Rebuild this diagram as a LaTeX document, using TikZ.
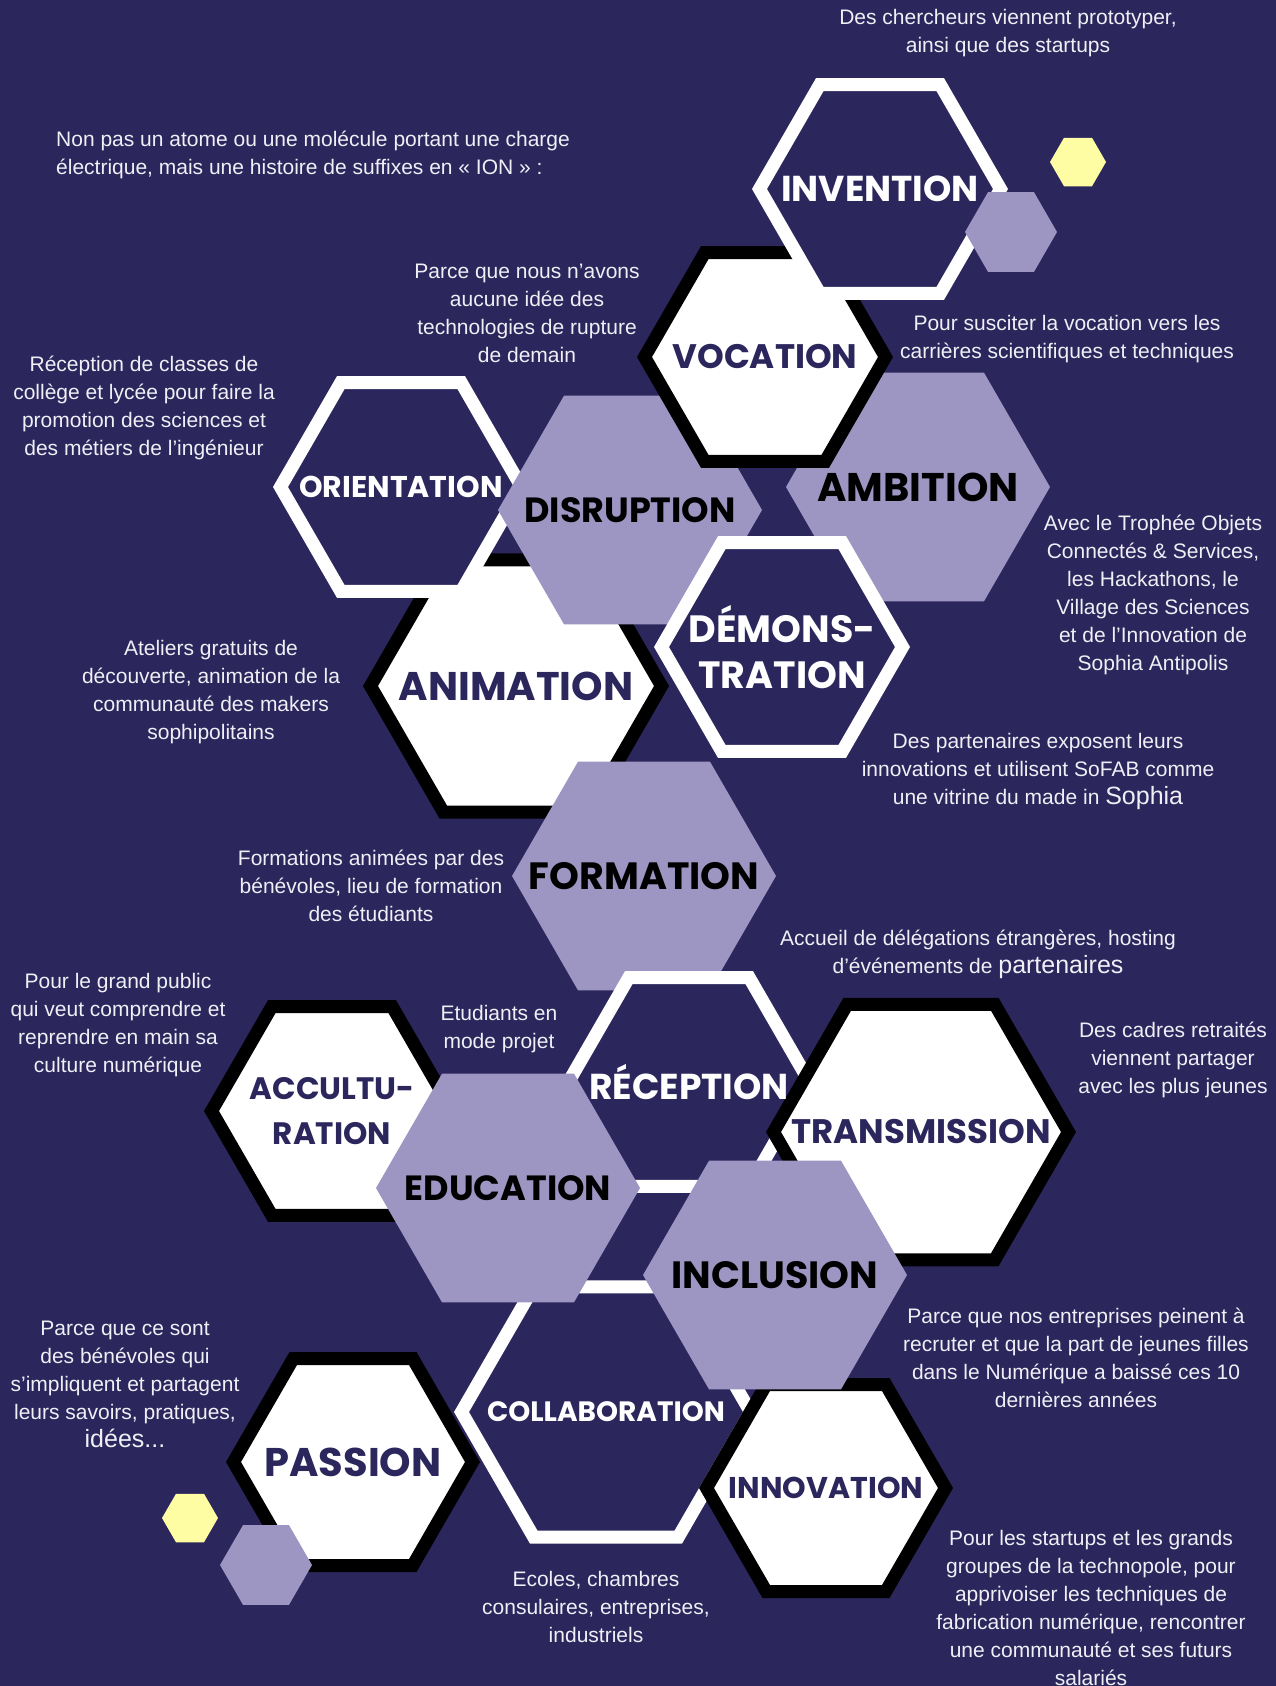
\documentclass[tikz,border=0pt]{standalone}
\usepackage{fontspec}
\setmainfont{Liberation Sans}
\newfontfamily\headfont{Poppins}
\usetikzlibrary{shapes.geometric}
\definecolor{navybg}{RGB}{43,38,92}
\definecolor{lilac}{RGB}{157,149,194}
\definecolor{pale}{RGB}{255,253,164}
\definecolor{txtw}{RGB}{240,239,246}
\newcommand{\hf}[2]{\headfont\bfseries\fontsize{#1}{#2}\selectfont}
\newcommand{\bodyf}{\fontsize{21}{28}\selectfont}
\newcommand{\bigw}{\fontsize{25}{28}\selectfont}

\begin{document}
\begin{tikzpicture}[x=1pt,y=-1pt,
  hex/.style={regular polygon,regular polygon sides=6,inner sep=0pt,outer sep=0pt},
  hexdark/.style={hex,fill=navybg,draw=white,line width=13pt},
  hexlight/.style={hex,fill=white,draw=black,line width=13pt},
  hexlilac/.style={hex,fill=lilac},
  hexpale/.style={hex,fill=pale},
  word/.style={inner sep=0pt,align=center},
  note/.style={text=txtw,align=center,font=\bodyf,inner sep=0pt}]
\fill[navybg] (0,0) rectangle (1276,1686);
\useasboundingbox (0,0) rectangle (1276,1686);

% upper group of cells, back to front
\node[hexlight,minimum size=291] (hAnimation) at (516,686) {};
\node[hexdark,minimum size=241] (hOrientation) at (401,487) {};
\node[hexlilac,minimum size=264] (hDisruption) at (630,510) {};
\node[hexlilac,minimum size=264] (hAmbition) at (918,487) {};
\node[hexlight,minimum size=241] (hVocation) at (765,357) {};
\node[hexdark,minimum size=241] (hInvention) at (880,189) {};
\node[hexlilac,minimum size=92] (hDotA) at (1011,232) {};
\node[hexpale,minimum size=56] (hDotB) at (1078,162) {};
\node[hexdark,minimum size=241] (hDemonstration) at (782,647) {};
\node[hexlilac,minimum size=264] (hFormation) at (644,876) {};

% lower group
\node[hexlight,minimum size=241] (hAcculturation) at (332,1111) {};
\node[hexdark,minimum size=241] (hReception) at (689,1082) {};
\node[hexlight,minimum size=295] (hTransmission) at (921,1132) {};
\node[hexdark,minimum size=289] (hCollaboration) at (606,1412) {};
\node[hexlilac,minimum size=264] (hEducation) at (508,1188) {};
\node[hexlight,minimum size=239] (hPassion) at (353,1462) {};
\node[hexlight,minimum size=239] (hInnovation) at (826,1488) {};
\node[hexlilac,minimum size=264] (hInclusion) at (775,1275) {};
\node[hexlilac,minimum size=92] (hDotC) at (266,1565) {};
\node[hexpale,minimum size=56] (hDotD) at (190,1518) {};

% words in the cells
\node[word,text=white,font=\hf{36}{36}] (tInvention) at (hInvention) {INVENTION};
\node[word,text=navybg,font=\hf{34}{34}] (tVocation) at (hVocation) {VOCATION};
\node[word,text=black,font=\hf{40}{40}] (tAmbition) at (hAmbition) {AMBITION};
\node[word,text=white,font=\hf{30}{30}] (tOrientation) at (hOrientation) {ORIENTATION};
\node[word,text=black,font=\hf{35}{35}] (tDisruption) at (hDisruption) {DISRUPTION};
\node[word,text=navybg,font=\hf{40}{40}] (tAnimation) at (hAnimation) {ANIMATION};
\node[word,text=white,font=\hf{38}{46}] (tDemonstration) at (hDemonstration) {DÉMONS-\\TRATION};
\node[word,text=black,font=\hf{38}{38}] (tFormation) at (hFormation) {FORMATION};
\node[word,text=white,font=\hf{36}{36}] (tReception) at (hReception) {RÉCEPTION};
\node[word,text=navybg,font=\hf{31}{45}] (tAcculturation) at (hAcculturation) {ACCULTU-\\RATION};
\node[word,text=black,font=\hf{35}{35}] (tEducation) at (hEducation) {EDUCATION};
\node[word,text=navybg,font=\hf{34}{34}] (tTransmission) at (hTransmission) {TRANSMISSION};
\node[word,text=black,font=\hf{38}{38}] (tInclusion) at (hInclusion) {INCLUSION};
\node[word,text=white,font=\hf{28}{28}] (tCollaboration) at (hCollaboration) {COLLABORATION};
\node[word,text=navybg,font=\hf{40}{40}] (tPassion) at (hPassion) {PASSION};
\node[word,text=navybg,font=\hf{30}{30}] (tInnovation) at (hInnovation) {INNOVATION};

% notes
\node[note] (nChercheurs) at (1008,33) {Des chercheurs viennent prototyper,\\ainsi que des startups};
\node[note,anchor=west,align=left] (nIntro) at (56,155) {Non pas un atome ou une molécule portant une charge\\électrique, mais une histoire de suffixes en « ION » :};
\node[note] (nRupture) at (527,313) {Parce que nous n’avons\\aucune idée des\\technologies de rupture\\de demain};
\node[note] (nVocation) at (1067,339) {Pour susciter la vocation vers les\\carrières scientifiques et techniques};
\node[note] (nClasses) at (144,408) {Réception de classes de\\collège et lycée pour faire la\\promotion des sciences et\\des métiers de l’ingénieur};
\node[note] (nTrophee) at (1153,595) {Avec le Trophée Objets\\Connectés \& Services,\\les Hackathons, le\\Village des Sciences\\et de l’Innovation de\\Sophia Antipolis};
\node[note] (nAteliers) at (211,692) {Ateliers gratuits de\\découverte, animation de la\\communauté des makers\\sophipolitains};
\node[note] (nVitrine) at (1038,771) {Des partenaires exposent leurs\\innovations et utilisent SoFAB comme\\une vitrine du made in {\bigw Sophia}};
\node[note] (nBenevoles) at (371,886) {Formations animées par des\\bénévoles, lieu de formation\\des étudiants};
\node[note] (nAccueil) at (978,954) {Accueil de délégations étrangères, hosting\\d’événements de {\bigw partenaires}};
\node[note] (nPublic) at (118,1025) {Pour le grand public\\qui veut comprendre et\\reprendre en main sa\\culture numérique};
\node[note] (nProjet) at (499,1029) {Etudiants en\\mode projet};
\node[note] (nRetraites) at (1173,1060) {Des cadres retraités\\viennent partager\\avec les plus jeunes};
\node[note] (nFilles) at (1076,1358) {Parce que nos entreprises peinent à\\recruter et que la part de jeunes filles\\dans le Numérique a baissé ces 10\\dernières années};
\node[note] (nSavoirs) at (125,1384) {Parce que ce sont\\des bénévoles qui\\s’impliquent et partagent\\leurs savoirs, pratiques,\\{\bigw idées...}};
\node[note] (nEcoles) at (596,1607) {Ecoles, chambres\\consulaires, entreprises,\\industriels};
\node[note] (nStartups) at (1091,1608) {Pour les startups et les grands\\groupes de la technopole, pour\\apprivoiser les techniques de\\fabrication numérique, rencontrer\\une communauté et ses futurs\\salariés};
\end{tikzpicture}
\end{document}
